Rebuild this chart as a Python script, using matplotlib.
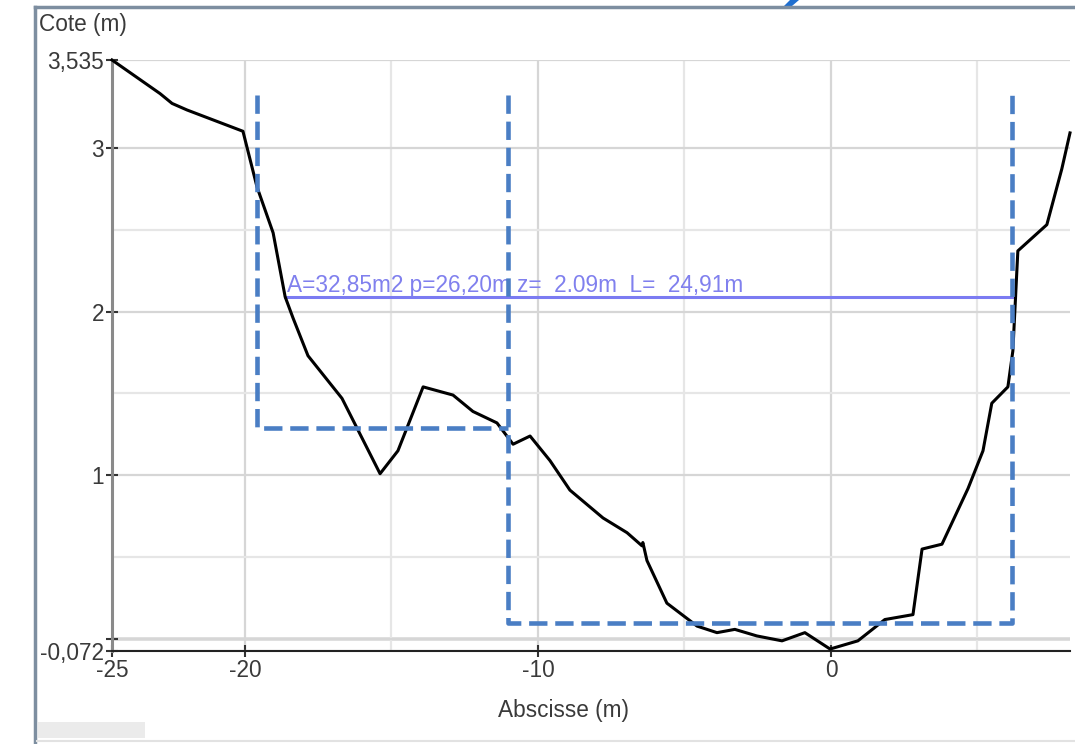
import matplotlib
matplotlib.use("Agg")
import matplotlib.pyplot as plt
from matplotlib import font_manager
from matplotlib.lines import Line2D
from matplotlib.patches import Rectangle, Polygon

# profil en travers : abscisse (m) / cote (m)
abscisse = [-24.54, -22.90, -22.49, -21.98, -20.07, -19.59, -19.04, -18.63, -18.36,
            -17.85, -16.69, -15.39, -14.78, -13.92, -12.90, -12.22, -11.40, -10.85,
            -10.27, -9.59, -8.91, -7.78, -6.96, -6.45, -6.42, -6.28, -5.60, -4.57,
            -3.89, -3.28, -2.53, -1.67, -0.89, -0.03, 0.92, 1.84, 2.80, 3.11, 3.79,
            4.68, 5.19, 5.49, 6.04, 6.21, 6.38, 7.37, 7.88, 8.16]
cote = [3.535, 3.33, 3.27, 3.23, 3.10, 2.76, 2.48, 2.09, 1.96,
        1.73, 1.47, 1.01, 1.15, 1.54, 1.49, 1.39, 1.32, 1.19,
        1.24, 1.09, 0.91, 0.74, 0.65, 0.57, 0.59, 0.48, 0.22, 0.08,
        0.04, 0.06, 0.02, -0.01, 0.04, -0.06, -0.01, 0.12, 0.15, 0.55, 0.58,
        0.92, 1.15, 1.44, 1.54, 1.76, 2.37, 2.53, 2.87, 3.09]

# limites des lits (pointilles)
lit_gauche_x = [-19.59, -19.59, -11.02]
lit_gauche_y = [3.32, 1.29, 1.29]
lit_mineur_x = [-11.02, -11.02, 6.18, 6.18]
lit_mineur_y = [3.32, 0.10, 0.10, 3.32]

# ligne d'eau
eau_x = [-18.63, 6.28]
eau_z = 2.09
eau_label = "A=32,85m2 p=26,20m z=  2.09m  L=  24,91m"

x_min, x_max = -24.54, 8.16
y_min, y_max = -0.072, 3.535
x_ticks = [x_min, -20, -10, 0]
x_ticklabels = ["-25", "-20", "-10", "0"]
x_minor = [-15, -5, 5]
y_ticks = [y_min, 0, 1, 2, 3, y_max]
y_ticklabels = ["-0,072", "", "1", "2", "3", "3,535"]
y_minor = [0.5, 1.5, 2.5]

W, H = 1075, 744

names = {f.name for f in font_manager.fontManager.ttflist}
if "Liberation Sans Narrow" in names:
    FONT, FS = "Liberation Sans Narrow", 19.5
else:
    FONT, FS = "Liberation Sans", 16.3
plt.rcParams["font.family"] = [FONT, "DejaVu Sans"]

TXT = "#3a3a3a"


def px(x, y):
    """pixel -> figure fraction"""
    return x / W, 1 - y / H


fig = plt.figure(figsize=(W / 100, H / 100), dpi=100)
fig.patch.set_facecolor("white")
ax = fig.add_axes([112 / W, 1 - 651 / H, (1070 - 112) / W, (651 - 60) / H])

ax.set_xlim(x_min, x_max)
ax.set_ylim(y_min, y_max)

# grille
ax.set_xticks(x_ticks)
ax.set_xticklabels(x_ticklabels)
ax.set_xticks(x_minor, minor=True)
ax.set_yticks(y_ticks)
ax.set_yticklabels(y_ticklabels)
ax.set_yticks(y_minor, minor=True)
ax.grid(True, which="major", color="#d6d6d6", lw=1.6, zorder=0)
ax.grid(True, which="minor", color="#e6e6e6", lw=1.6, zorder=0)
ax.axhline(0, color="#e0e0e0", lw=2.8, zorder=0.5)
ax.set_axisbelow(True)

ax.tick_params(which="major", direction="inout", length=9, width=1.5,
               color="#333333", labelsize=FS, labelcolor=TXT, pad=1.2)
ax.tick_params(which="minor", length=0)

for s in ("top", "right"):
    ax.spines[s].set_visible(False)
ax.spines["left"].set_color("#8a8a8a")
ax.spines["left"].set_linewidth(2.2)
ax.spines["bottom"].set_color("#222222")
ax.spines["bottom"].set_linewidth(1.5)

# ligne d'eau + etiquette
ax.plot(eau_x, [eau_z, eau_z], color="#7b7bf2", lw=2.2, zorder=2)
ax.text(eau_x[0] + 0.07, eau_z + 0.03, eau_label, color="#8080ee",
        fontsize=FS, ha="left", va="baseline", zorder=2)

# profil
ax.plot(abscisse, cote, color="black", lw=2.2, zorder=3, clip_on=False,
        solid_joinstyle="round")

# lits
for xs, ys in ((lit_gauche_x, lit_gauche_y), (lit_mineur_x, lit_mineur_y)):
    ax.plot(xs, ys, color="#4a7ec4", lw=3.3, dashes=(4.0, 1.7), zorder=4,
            dash_joinstyle="round", dash_capstyle="butt")

# titres d'axes
fig.text(*px(39, 24), "Cote (m)", fontsize=FS, color=TXT, ha="left", va="center")
fig.text(*px(563, 710), "Abscisse (m)", fontsize=FS, color=TXT, ha="center", va="center")

# cadre de la fenetre (capture)
fig.add_artist(Line2D([px(35, 0)[0], px(35, 744)[0]], [px(35, 7)[1], px(35, 744)[1]],
                      transform=fig.transFigure, color="#7d8ea0", lw=2.5))
fig.add_artist(Line2D([px(35, 0)[0], 1], [px(0, 7)[1], px(0, 7)[1]],
                      transform=fig.transFigure, color="#7d8ea0", lw=2.5))
fig.add_artist(Line2D([px(37, 0)[0], 1], [px(0, 741)[1], px(0, 741)[1]],
                      transform=fig.transFigure, color="#e2e2e2", lw=1.5))
x0, y0 = px(38, 738)
fig.add_artist(Rectangle((x0, y0), 107 / W, 16 / H, transform=fig.transFigure,
                         facecolor="#ebebeb", edgecolor="none"))
fig.add_artist(Polygon([px(790, 0), px(799, 0), px(792, 6), px(784, 6)],
                       closed=True, transform=fig.transFigure,
                       facecolor="#1f6fd0", edgecolor="none"))

fig.savefig("out.png", dpi=100)
